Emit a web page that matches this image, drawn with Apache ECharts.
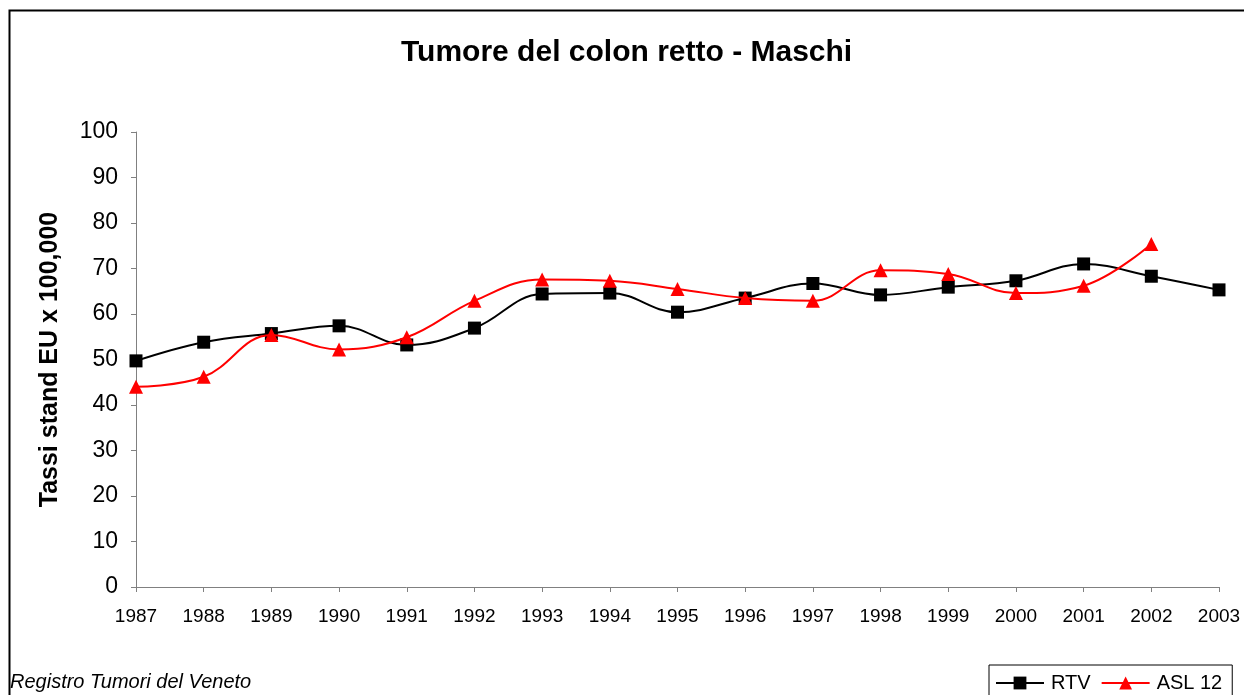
<!DOCTYPE html>
<html>
<head>
<meta charset="utf-8">
<script src="https://cdn.jsdelivr.net/npm/echarts@6/dist/echarts.min.js"></script>
<style>
html,body{margin:0;padding:0;background:#fff;}
#chart{width:1244px;height:695px;}
</style>
</head>
<body>
<div id="chart"></div>
<script>
const years = ['1987','1988','1989','1990','1991','1992','1993','1994','1995','1996','1997','1998','1999','2000','2001','2002','2003'];
const rtv = [49.7, 53.8, 55.7, 57.4, 53.2, 56.9, 64.4, 64.6, 60.4, 63.5, 66.7, 64.2, 65.9, 67.3, 71.0, 68.3, 65.3];
const asl12 = [44.0, 46.2, 55.4, 52.2, 54.9, 62.9, 67.6, 67.3, 65.5, 63.5, 62.9, 69.6, 68.8, 64.6, 66.2, 75.4, null];
const yTicks = [0, 10, 20, 30, 40, 50, 60, 70, 80, 90, 100];

const chart = echarts.init(document.getElementById('chart'), null, {renderer: 'canvas'});
const font = 'Liberation Sans, Arial, sans-serif';
chart.setOption({
  animation: false,
  backgroundColor: '#ffffff',
  textStyle: {fontFamily: font},
  title: {
    text: 'Tumore del colon retto - Maschi',
    left: 396,
    top: 33,
    textStyle: {fontFamily: font, fontSize: 30, fontWeight: 'bold', color: '#000'}
  },
  graphic: [
    {type: 'rect', shape: {x: 9.5, y: 10.5, width: 1400, height: 900}, style: {fill: 'none', stroke: '#000', lineWidth: 2}, silent: true},
    {type: 'text', left: 10, top: 672, style: {text: 'Registro Tumori del Veneto', font: 'italic 20px Liberation Sans, Arial, sans-serif', fill: '#000'}}
  ],
  legend: {
    left: 989,
    top: 665,
    orient: 'horizontal',
    borderColor: '#000',
    borderWidth: 1,
    padding: [8, 10, 12, 6],
    itemWidth: 48,
    itemHeight: 16,
    itemGap: 10,
    textStyle: {fontFamily: font, fontSize: 20, color: '#000', padding: [0, 0, 0, 2]},
    data: ['RTV', 'ASL 12']
  },
  grid: {left: 136, right: 25, top: 132, bottom: 108, containLabel: false},
  xAxis: {
    type: 'category',
    data: years,
    boundaryGap: false,
    axisLine: {lineStyle: {color: '#808080', width: 1}},
    axisTick: {show: true, inside: false, length: 5, alignWithLabel: true, lineStyle: {color: '#808080'}},
    axisLabel: {fontFamily: font, fontSize: 19, color: '#000', margin: 20, interval: 0},
    splitLine: {show: false}
  },
  yAxis: {
    type: 'value',
    min: yTicks[0],
    max: yTicks[yTicks.length - 1],
    interval: 10,
    name: 'Tassi stand EU x 100,000',
    nameLocation: 'middle',
    nameGap: 73,
    nameRotate: 90,
    nameTextStyle: {fontFamily: font, fontSize: 25, fontWeight: 'bold', color: '#000'},
    axisLine: {show: true, lineStyle: {color: '#808080', width: 1}},
    axisTick: {show: true, inside: false, length: 5, lineStyle: {color: '#808080'}},
    axisLabel: {fontFamily: font, fontSize: 23, color: '#000', margin: 18},
    splitLine: {show: false}
  },
  series: [
    {
      name: 'RTV',
      type: 'line',
      data: rtv,
      smooth: 0.4,
      symbol: 'rect',
      symbolSize: 13,
      lineStyle: {color: '#000', width: 2},
      itemStyle: {color: '#000'},
      z: 2
    },
    {
      name: 'ASL 12',
      type: 'line',
      data: asl12,
      smooth: 0.4,
      symbol: 'triangle',
      symbolSize: 14,
      lineStyle: {color: '#ff0000', width: 2},
      itemStyle: {color: '#ff0000'},
      z: 3
    }
  ]
});
</script>
</body>
</html>
